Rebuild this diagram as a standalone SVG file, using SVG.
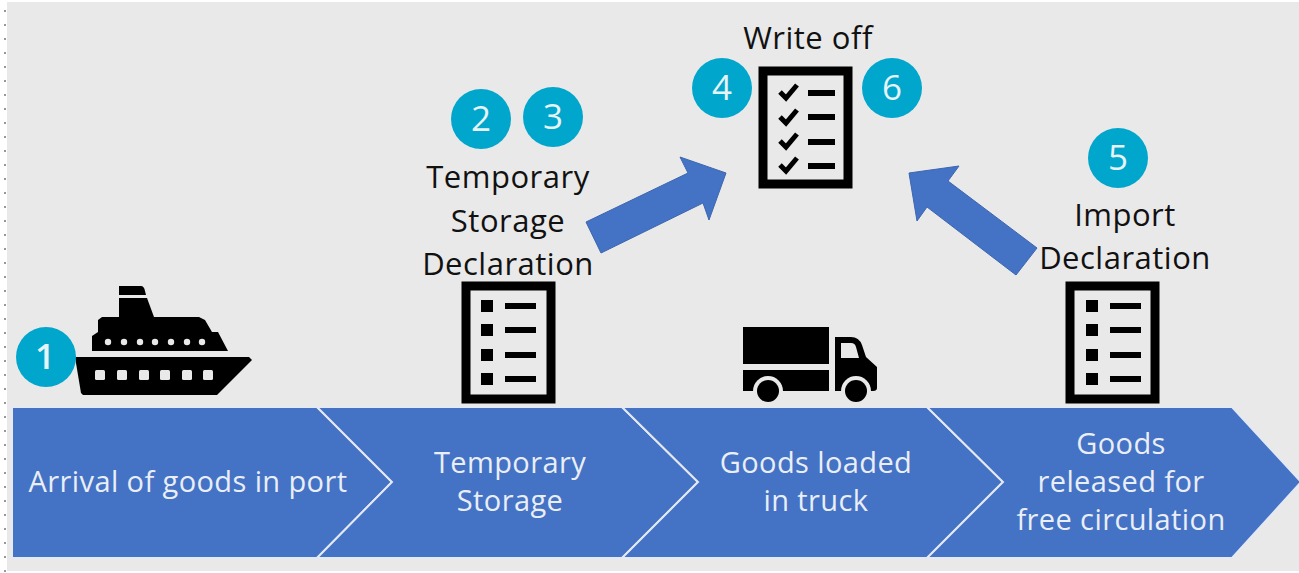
<svg xmlns="http://www.w3.org/2000/svg" width="1299" height="573" viewBox="0 0 1299 573">
<style>
text{font-family:"Open Sans","Noto Sans",sans-serif}
.lb{font-size:31px;fill:#111;text-anchor:middle;letter-spacing:.5px}
.cl{font-size:29px;fill:#e9eef7;text-anchor:middle;letter-spacing:.4px}
.nm{font-size:35px;fill:#e6f3f7;text-anchor:middle}
.bd{fill:#00a6cc}
.ch{fill:#4472c4;stroke:#e4e9f3;stroke-width:2}
.ar{fill:#4472c4;stroke:#3c66b0;stroke-width:1}
.ic{fill:#000}
.hole{fill:#e9e9e9}
.pg{fill:none;stroke:#000;stroke-width:9}
.dt{stroke:#999;stroke-width:2;stroke-dasharray:2 12}
</style>
<rect width="1299" height="573" fill="#fff"/>
<rect x="7" y="2" width="1292" height="569" fill="#e9e9e9"/>
<line class="dt" x1="5" y1="10" x2="5" y2="573"/>
<g id="connectors">
<polygon class="ar" points="586,222 688,173 680,157 726,173 709,220 703,203 601,253"/>
<polygon class="ar" points="1037,248 948,181 959,166 909,173 917,221 927,207 1016,275"/>
</g>
<g id="step-arrival"><polygon class="ch" points="12,407 317,407 392,482 317,558 12,558"/><text class="cl" x="188" y="492">Arrival of goods in port</text></g>
<g id="step-storage"><polygon class="ch" points="317,407 622,407 698,482 622,558 317,558 392,482"/><text class="cl" x="510" y="473">Temporary</text><text class="cl" x="510" y="511">Storage</text></g>
<g id="step-truck"><polygon class="ch" points="622,407 927,407 1003,482 927,558 622,558 698,482"/><text class="cl" x="816" y="473">Goods loaded</text><text class="cl" x="816" y="511">in truck</text></g>
<g id="step-released"><polygon class="ch" points="927,407 1232,407 1301,482 1232,558 927,558 1003,482"/><text class="cl" x="1121" y="454">Goods</text><text class="cl" x="1121" y="492">released for</text><text class="cl" x="1121" y="530">free circulation</text></g>
<g id="ship">
<path class="ic" d="M119,286H141Q144,286 145,291L146,295H119ZM119,298H147L154,317H199L205,320L212,332H218L228,351H92V336L98,332V320L102,317H119Z"/>
<path class="ic" d="M75,357H249L252,360L217,395H83L81,393Z"/>
<g class="hole"><circle cx="108" cy="342" r="3.2"/><circle cx="124" cy="342" r="3.2"/><circle cx="140" cy="342" r="3.2"/><circle cx="155" cy="342" r="3.2"/><circle cx="171" cy="342" r="3.2"/><circle cx="187" cy="342" r="3.2"/><circle cx="202" cy="342" r="3.2"/>
<rect x="95" y="370" width="10" height="10" rx="1.5"/><rect x="117" y="370" width="10" height="10" rx="1.5"/><rect x="139" y="370" width="10" height="10" rx="1.5"/><rect x="160" y="370" width="10" height="10" rx="1.5"/><rect x="182" y="370" width="10" height="10" rx="1.5"/><rect x="203" y="370" width="10" height="10" rx="1.5"/></g>
</g>
<g id="badge-1"><circle class="bd" cx="46" cy="357" r="30"/><text class="nm" x="45" y="369" font-weight="600">1</text></g>
<g id="temp-doc">
<rect class="pg" x="466" y="286" width="85" height="113"/>
<g class="ic"><rect x="481" y="300" width="12" height="12"/><rect x="481" y="324" width="12" height="12"/><rect x="481" y="349" width="12" height="12"/><rect x="481" y="373" width="12" height="12"/><rect x="505" y="303" width="31" height="6"/><rect x="505" y="327" width="31" height="6"/><rect x="505" y="352" width="31" height="6"/><rect x="505" y="376" width="31" height="6"/></g>
</g>
<g id="temp-label"><text class="lb" x="508" y="188">Temporary</text><text class="lb" x="508" y="232">Storage</text><text class="lb" x="508" y="275">Declaration</text></g>
<g id="badge-2"><circle class="bd" cx="481" cy="119" r="30"/><text class="nm" x="481" y="131">2</text></g>
<g id="badge-3"><circle class="bd" cx="553" cy="117" r="30"/><text class="nm" x="553" y="129">3</text></g>
<g id="truck">
<path class="ic" d="M743,327H829V364H743ZM743,370H829V391H743ZM835,337H851Q859,337 862,345L866,357L877,367V388Q877,391 873,391H835Z"/>
<path class="hole" d="M841,343H851Q855,343 856,347L859,358H841Z"/>
<circle class="hole" cx="768" cy="391" r="15"/><circle class="hole" cx="856" cy="391" r="15"/>
<rect class="hole" x="750" y="391" width="36" height="16"/><rect class="hole" x="838" y="391" width="36" height="16"/>
<circle class="ic" cx="768" cy="391" r="11"/><circle class="ic" cx="856" cy="391" r="11"/>
</g>
<g id="writeoff-doc">
<rect class="pg" x="763" y="71" width="85" height="113"/>
<path d="M780,92L786,98L797,85M780,117L786,123L797,110M780,141L786,147L797,134M780,165L786,171L797,158" fill="none" stroke="#000" stroke-width="5"/>
<g class="ic"><rect x="808" y="90" width="27" height="6"/><rect x="808" y="114" width="27" height="6"/><rect x="808" y="139" width="27" height="6"/><rect x="808" y="163" width="27" height="6"/></g>
</g>
<g id="writeoff-label"><text class="lb" x="808" y="49">Write off</text></g>
<g id="badge-4"><circle class="bd" cx="722" cy="88" r="30"/><text class="nm" x="722" y="100">4</text></g>
<g id="badge-6"><circle class="bd" cx="892" cy="88" r="30"/><text class="nm" x="892" y="100">6</text></g>
<g id="import-label"><text class="lb" x="1125" y="226">Import</text><text class="lb" x="1125" y="269">Declaration</text></g>
<g id="badge-5"><circle class="bd" cx="1118" cy="158" r="30"/><text class="nm" x="1118" y="170">5</text></g>
<g id="import-doc">
<rect class="pg" x="1070" y="286" width="85" height="113"/>
<g class="ic"><rect x="1086" y="300" width="12" height="12"/><rect x="1086" y="324" width="12" height="12"/><rect x="1086" y="349" width="12" height="12"/><rect x="1086" y="373" width="12" height="12"/><rect x="1110" y="303" width="31" height="6"/><rect x="1110" y="327" width="31" height="6"/><rect x="1110" y="352" width="31" height="6"/><rect x="1110" y="376" width="31" height="6"/></g>
</g>
</svg>
